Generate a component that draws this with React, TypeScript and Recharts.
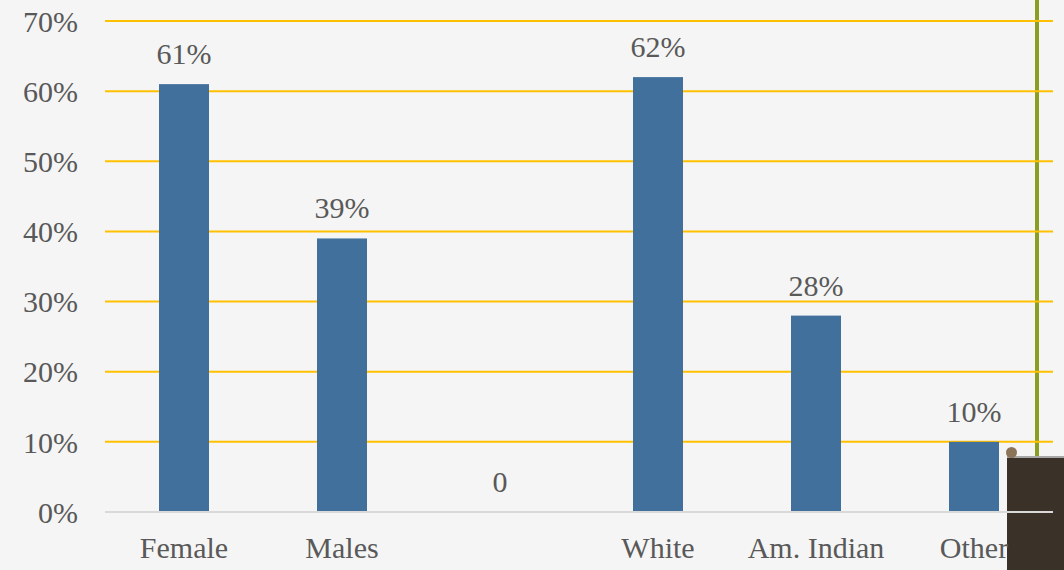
import React from "react";
import { BarChart, Bar, XAxis, YAxis, CartesianGrid } from "recharts";

const categories = ["Female", "Males", "", "White", "Am. Indian", "Other"];
const values = [61, 39, 0, 62, 28, 10];
const yTicks = [0, 10, 20, 30, 40, 50, 60, 70];

const data = categories.map((c, i) => ({ name: c, value: values[i] }));

const FONT = "Liberation Serif, DejaVu Serif, serif";
const TEXT = "#595959";
const BAR = "#41709C";
const FS = 30;

const BarWithLabel = (props: any) => {
  const { x, y, width, height, payload } = props;
  const value = payload ? payload.value : props.value;
  const txt = value === 0 ? "0" : `${value}%`;
  return (
    <g>
      {height > 0 && <rect x={x} y={y} width={width} height={height} fill={BAR} />}
      <text
        x={x + width / 2}
        y={y - 20}
        textAnchor="middle"
        fill={TEXT}
        fontSize={FS}
        style={{ fontFamily: FONT }}
      >
        {txt}
      </text>
    </g>
  );
};

export default function App() {
  return (
    <div
      style={{
        position: "fixed",
        left: 0,
        top: 0,
        width: 1064,
        height: 570,
        background: "#F5F5F5",
        overflow: "hidden",
        fontFamily: FONT,
      }}
    >
      <div
        style={{
          position: "absolute",
          left: 1035,
          top: 0,
          width: 4,
          height: 456,
          background: "#8A9E22",
        }}
      />
      <div
        style={{
          position: "absolute",
          left: 1007,
          top: 456,
          width: 57,
          height: 114,
          background: "#3A3129",
          borderTop: "2px solid #A8A8A8",
        }}
      />
      <div
        style={{
          position: "absolute",
          left: 1006,
          top: 447,
          width: 11,
          height: 11,
          borderRadius: "50%",
          background: "#8C7458",
        }}
      />
      <div style={{ position: "absolute", left: 0, top: 0 }}>
        <BarChart
          width={1064}
          height={570}
          data={data}
          margin={{ top: 21, right: 11, bottom: 0, left: 0 }}
          style={{ fontFamily: FONT }}
        >
          <CartesianGrid
            vertical={false}
            horizontal={true}
            stroke="#FFC000"
            strokeWidth={2}
          />
          <XAxis
            dataKey="name"
            height={58}
            tickLine={false}
            tickSize={0}
            tickMargin={25}
            axisLine={{ stroke: "#D9D9D9", strokeWidth: 2 }}
            tick={{ fill: TEXT, fontSize: FS, style: { fontFamily: FONT } }}
            interval={0}
          />
          <YAxis
            width={105}
            domain={[0, 70]}
            ticks={yTicks}
            tickFormatter={(v: number) => `${v}%`}
            tickLine={false}
            tickSize={0}
            tickMargin={27}
            axisLine={false}
            tick={{ fill: TEXT, fontSize: FS, style: { fontFamily: FONT } }}
          />
          <Bar
            dataKey="value"
            fill={BAR}
            isAnimationActive={false}
            barSize={50}
            shape={BarWithLabel}
          />
        </BarChart>
      </div>
    </div>
  );
}
